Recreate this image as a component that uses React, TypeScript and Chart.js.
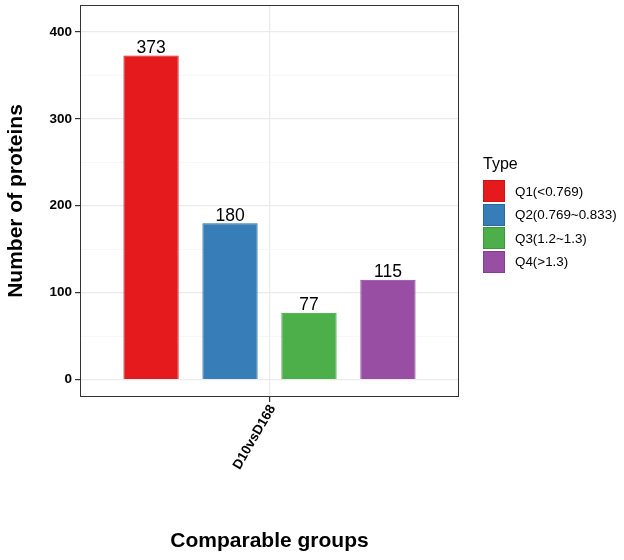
import { useEffect, useRef } from "react";
import { Chart, registerables, type ChartConfiguration, type Plugin } from "chart.js";

Chart.register(...registerables);

const FONT = '"Liberation Sans", Arial, Helvetica, sans-serif';

const GROUPS = ["D10vsD168"];
const TYPES = ["Q1(<0.769)", "Q2(0.769~0.833)", "Q3(1.2~1.3)", "Q4(>1.3)"];
const COUNTS = [373, 180, 77, 115];
const FILLS = ["#E41A1C", "#377EB8", "#4DAF4A", "#984EA3"];
const EDGES = ["#C9151A", "#2A69A0", "#3A9838", "#823E95"];

const Y_MAJOR = [0, 100, 200, 300, 400];
const Y_MINOR = [50, 150, 250, 350];
const Y_MIN = -20;
const Y_MAX = 431;

// value labels above each bar, read from the bar elements themselves
const valueLabels: Plugin<"bar"> = {
  id: "valueLabels",
  afterDatasetsDraw(chart) {
    const { ctx } = chart;
    ctx.save();
    ctx.font = `17.5px ${FONT}`;
    ctx.fillStyle = "#000";
    ctx.textAlign = "center";
    ctx.textBaseline = "alphabetic";
    chart.data.datasets.forEach((ds, i) => {
      chart.getDatasetMeta(i).data.forEach((bar, j) => {
        ctx.fillText(String(ds.data[j]), bar.x, bar.y - 2.5);
      });
    });
    ctx.restore();
  },
};

// ggplot-style panel border
const panelBorder: Plugin<"bar"> = {
  id: "panelBorder",
  afterDraw(chart) {
    const { ctx, chartArea: a } = chart;
    ctx.save();
    ctx.strokeStyle = "#333333";
    ctx.lineWidth = 1;
    ctx.strokeRect(Math.round(a.left) + 0.5, Math.round(a.top) + 0.5, Math.round(a.right - a.left) - 1, Math.round(a.bottom - a.top) - 1);
    ctx.restore();
  },
};

function BarChart() {
  const canvasRef = useRef<HTMLCanvasElement>(null);

  useEffect(() => {
    document.body.style.margin = "0";
    if (!canvasRef.current) return;
    const config: ChartConfiguration<"bar"> = {
      type: "bar",
      data: {
        labels: GROUPS,
        datasets: TYPES.map((t, i) => ({
          label: t,
          data: [COUNTS[i]],
          backgroundColor: FILLS[i],
          borderColor: EDGES[i],
          borderWidth: 1,
          categoryPercentage: 1 / 1.2,
          barPercentage: 0.7,
        })),
      },
      options: {
        responsive: true,
        maintainAspectRatio: false,
        animation: false,
        layout: { padding: { top: 5, right: 165, left: 0, bottom: 0 } },
        plugins: { legend: { display: false }, tooltip: { enabled: false } },
        scales: {
          x: {
            type: "category",
            offset: true,
            border: { display: false },
            afterFit: (scale) => {
              scale.height = 163;
              scale.paddingLeft = 0;
              scale.paddingRight = 0;
            },
            grid: { offset: false, color: "#EBEBEB", lineWidth: 1.2, tickLength: 5, tickColor: "#333333" },
            ticks: {
              minRotation: 60,
              maxRotation: 60,
              padding: 0,
              labelOffset: 3,
              color: "#000",
              font: { family: FONT, size: 13.5, weight: "bold" },
            },
            title: {
              display: true,
              text: "Comparable groups",
              color: "#000",
              font: { family: FONT, size: 21, weight: "bold" },
              padding: { top: 53, bottom: 6 },
            },
          },
          y: {
            min: Y_MIN,
            max: Y_MAX,
            border: { display: false },
            afterBuildTicks: (scale) => {
              scale.ticks = [Y_MIN, ...[...Y_MAJOR, ...Y_MINOR].sort((a, b) => a - b), Y_MAX].map((value) => ({ value }));
            },
            afterFit: (scale) => {
              scale.width = 80;
              scale.paddingTop = 0;
              scale.paddingBottom = 0;
            },
            grid: {
              color: (c) => (Y_MAJOR.includes(c.tick?.value) ? "#EBEBEB" : Y_MINOR.includes(c.tick?.value) ? "#F3F3F3" : "rgba(0,0,0,0)"),
              lineWidth: (c) => (Y_MAJOR.includes(c.tick?.value) ? 1.2 : 0.7),
              tickLength: 5,
              tickColor: (c) => (Y_MAJOR.includes(c.tick?.value) ? "#333333" : "rgba(0,0,0,0)"),
            },
            ticks: {
              padding: 3,
              color: "#000",
              font: { family: FONT, size: 13.5, weight: "bold" },
              callback: (v) => (Y_MAJOR.includes(Number(v)) ? String(v) : Y_MINOR.includes(Number(v)) ? "" : null),
            },
            title: {
              display: true,
              text: "Number of proteins",
              color: "#000",
              font: { family: FONT, size: 21, weight: "bold" },
              padding: { top: 4, bottom: 20 },
            },
          },
        },
      },
      plugins: [valueLabels, panelBorder],
    };
    const chart = new Chart(canvasRef.current, config);
    return () => chart.destroy();
  }, []);

  return (
    <div style={{ position: "relative", width: 624, height: 560, background: "#fff", fontFamily: FONT }}>
      <canvas ref={canvasRef} />
      <div style={{ position: "absolute", left: 483, top: 154, color: "#000" }}>
        <div style={{ fontSize: 16, lineHeight: "20px", marginBottom: 6 }}>Type</div>
        {TYPES.map((t, i) => (
          <div key={t} style={{ display: "flex", alignItems: "center", height: 22, marginBottom: 1.6 }}>
            <span
              style={{
                width: 22,
                height: 22,
                boxSizing: "border-box",
                background: FILLS[i],
                border: `1px solid ${EDGES[i]}`,
                flex: "none",
              }}
            />
            <span style={{ marginLeft: 10, fontSize: 13.4, whiteSpace: "nowrap" }}>{t}</span>
          </div>
        ))}
      </div>
    </div>
  );
}

export default function App() {
  return <BarChart />;
}
